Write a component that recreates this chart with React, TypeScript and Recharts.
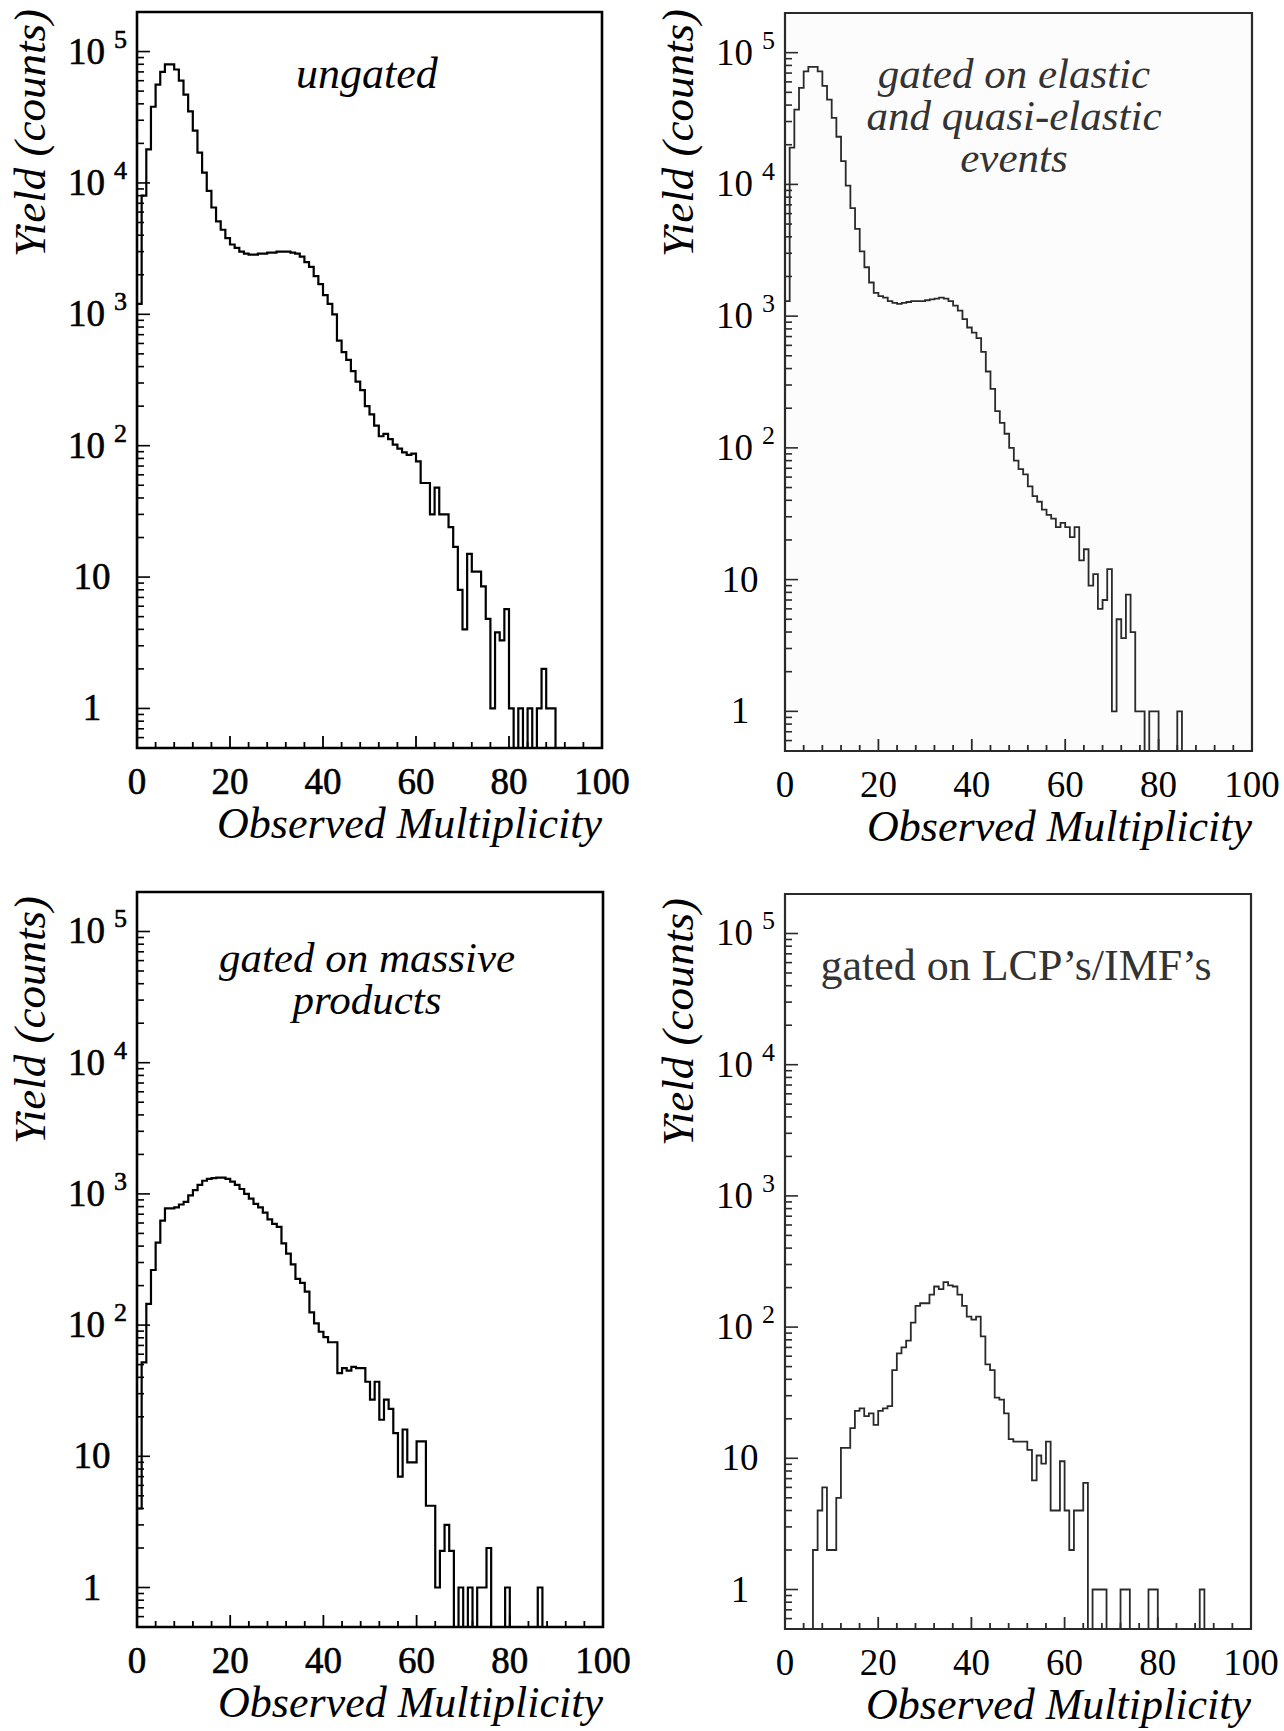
import React from "react";
import { LineChart, Line, XAxis, YAxis, ReferenceArea } from "recharts";

const FONT = '"Liberation Serif", "Times New Roman", Times, serif';

// log axis runs from 0.5 up to 2e5 counts
const Y_MIN = 0.5;
const Y_MAX = 200000;

const multiplicityTicks = [
  0, 4, 8, 12, 16, 20, 24, 28, 32, 36, 40, 44, 48, 52, 56, 60, 64, 68, 72, 76, 80, 84, 88, 92, 96, 100,
];
const multiplicityLabels = [0, 20, 40, 60, 80, 100];

const yieldTicks = [
  0.6, 0.7, 0.8, 0.9, 1, 2, 3, 4, 5, 6, 7, 8, 9, 10, 20, 30, 40, 50, 60, 70, 80, 90, 100, 200, 300,
  400, 500, 600, 700, 800, 900, 1000, 2000, 3000, 4000, 5000, 6000, 7000, 8000, 9000, 10000, 20000,
  30000, 40000, 50000, 60000, 70000, 80000, 90000, 100000,
];
const yieldDecades = [1, 10, 100, 1000, 10000, 100000];
const yieldDecadeBase = ["1", "10", "10", "10", "10", "10"];
const yieldDecadeExp = ["", "", "2", "3", "4", "5"];

// counts per multiplicity bin, bin n covers [n, n+1)
const ungatedCounts = [
  1200, 8000, 18000, 38000, 56000, 70000, 80000, 80000, 73000, 60000,
  47000, 35000, 25000, 17000, 12000, 8700, 6500, 5100, 4400, 3800,
  3400, 3200, 3000, 2900, 2850, 2850, 2900, 2900, 2950, 2950,
  3000, 3000, 3000, 2950, 2900, 2750, 2500, 2300, 1950, 1700,
  1400, 1200, 1000, 630, 515, 450, 370, 307, 265, 200,
  173, 142, 118, 123, 112, 102, 95, 89, 85, 87,
  76, 52, 52, 30, 48, 30, 30, 24, 17, 8,
  4, 15, 11, 11, 8.5, 4.8, 1, 3.8, 3.3, 5.7,
  1, 0, 1, 0, 1, 0, 1, 2, 1, 1,
];

const elasticCounts = [
  1300, 19000, 37000, 54000, 72000, 78000, 78000, 72000, 56000, 44000,
  32000, 23000, 15000, 9800, 6600, 4600, 3100, 2350, 1800, 1500,
  1420, 1380, 1300, 1260, 1240, 1260, 1280, 1300, 1300, 1300,
  1320, 1340, 1360, 1380, 1360, 1300, 1200, 1100, 950, 820,
  750, 680, 535, 380, 280, 190, 155, 128, 100, 80,
  69, 63, 51, 43, 39, 34, 31, 29, 25, 27,
  25, 21, 25, 14, 17, 9, 11, 6, 7, 12,
  1, 5, 3.6, 7.7, 4, 1, 1, 0, 1, 1,
  0, 0, 0, 0, 1,
];

const massiveCounts = [
  4, 52, 145, 263, 425, 625, 775, 775, 790, 830,
  870, 975, 1070, 1170, 1260, 1300, 1320, 1330, 1330, 1300,
  1240, 1170, 1090, 1000, 920, 840, 790, 720, 640, 590,
  560, 420, 350, 290, 225, 210, 180, 125, 103, 89,
  81, 74, 74, 43, 47, 45, 48, 47, 47, 37,
  27, 37, 19, 27, 23, 15, 7, 16, 9, 9,
  13, 13, 4.2, 4.2, 1, 1.9, 3, 1.9, 0, 1,
  0, 1, 0, 1, 1, 2, 0, 0, 0, 1,
  0, 0, 0, 0, 0, 0, 1,
];

const lcpImfCounts = [
  0, 0, 0, 0, 0, 0, 2, 4, 6, 2,
  2, 5, 12, 12, 17, 23, 24, 21, 22, 18,
  23, 24, 25, 47, 63, 70, 79, 108, 145, 152,
  152, 177, 204, 195, 220, 208, 204, 177, 145, 120,
  114, 120, 85, 52, 47, 29, 28, 22, 14, 13.4,
  13.4, 13.4, 11.6, 6.8, 10.5, 9.1, 13.4, 4, 4, 9.5,
  4, 2, 4, 4, 6.5, 0, 1, 1, 1, 0,
  0, 0, 1, 1, 0, 0, 0, 0, 1, 1,
  0, 0, 0, 0, 0, 0, 0, 0, 0, 1,
];

const panelCaptions = [
  ["ungated"],
  ["gated on elastic", "and quasi-elastic", "events"],
  ["gated on massive", "products"],
  ["gated on LCP\u2019s/IMF\u2019s"],
];

type PanelStyle = {
  left: number;
  top: number;
  width: number;
  height: number;
  ink: string;
  labelStroke: number;
  lineWidth: number;
  frameWidth: number;
  shade: number;
  captionX: number;
  captionY: number;
  captionStep: number;
  captionSize: number;
  captionItalic: boolean;
  captionInk: string;
  yTitleY: number;
};

const panels: PanelStyle[] = [
  { left: 137, top: 12, width: 465, height: 736, ink: "#000", labelStroke: 0.6, lineWidth: 2.2, frameWidth: 2.6,
    shade: 0, captionX: 367, captionY: 88, captionStep: 42, captionSize: 44, captionItalic: true,
    captionInk: "#000", yTitleY: 133 },
  { left: 785, top: 13, width: 467, height: 738, ink: "#2a2a2a", labelStroke: 0, lineWidth: 1.8, frameWidth: 2.2,
    shade: 0.012, captionX: 1014, captionY: 88, captionStep: 42, captionSize: 43, captionItalic: true,
    captionInk: "#333", yTitleY: 133 },
  { left: 137, top: 892, width: 466, height: 735, ink: "#000", labelStroke: 0.6, lineWidth: 2.2, frameWidth: 2.6,
    shade: 0, captionX: 367, captionY: 972, captionStep: 42, captionSize: 43, captionItalic: true,
    captionInk: "#000", yTitleY: 1020 },
  { left: 785, top: 894, width: 466, height: 735, ink: "#2a2a2a", labelStroke: 0, lineWidth: 1.8, frameWidth: 2.2,
    shade: 0, captionX: 1016, captionY: 980, captionStep: 42, captionSize: 44, captionItalic: false,
    captionInk: "#333", yTitleY: 1022 },
];

const panelCounts = [ungatedCounts, elasticCounts, massiveCounts, lcpImfCounts];

const AXIS_W = 110;
const AXIS_H = 60;
const PAD_T = 10;
const PAD_R = 45;

// histogram outline for a stepAfter line: rise at the first edge, drop after the last bin
function toSteps(counts: number[]) {
  const pts = [{ x: 0, y: Y_MIN }];
  counts.forEach((c, i) => pts.push({ x: i, y: Math.max(c, Y_MIN) }));
  pts.push({ x: counts.length, y: Y_MIN });
  return pts;
}

function makeXTick(p: PanelStyle) {
  return (props: any) => {
    const { x, y, payload } = props;
    const major = multiplicityLabels.includes(payload.value);
    return (
      <g>
        <line x1={x} x2={x} y1={y} y2={y - (major ? 12 : 6)} stroke={p.ink} strokeWidth={1.8} />
        {major && (
          <text
            x={x}
            y={y + 46}
            textAnchor="middle"
            fontFamily={FONT}
            fontSize={37}
            fill="#000"
            stroke="#000"
            strokeWidth={p.labelStroke}
          >
            {payload.value}
          </text>
        )}
      </g>
    );
  };
}

function makeYTick(p: PanelStyle) {
  return (props: any) => {
    const { x, y, payload } = props;
    const i = yieldDecades.indexOf(payload.value);
    const major = i >= 0;
    const txt = { fontFamily: FONT, fill: "#000", stroke: "#000", strokeWidth: p.labelStroke };
    return (
      <g>
        <line x1={x} x2={x + (major ? 13 : 7)} y1={y} y2={y} stroke={p.ink} strokeWidth={1.6} />
        {major && yieldDecadeExp[i] === "" && (
          <text x={x - 45} y={y + 12} textAnchor="middle" fontSize={37} {...txt}>
            {yieldDecadeBase[i]}
          </text>
        )}
        {major && yieldDecadeExp[i] !== "" && (
          <g>
            <text x={x - 32} y={y + 12} textAnchor="end" fontSize={37} {...txt}>
              {yieldDecadeBase[i]}
            </text>
            <text x={x - 23} y={y - 4} fontSize={26} {...txt}>
              {yieldDecadeExp[i]}
            </text>
          </g>
        )}
      </g>
    );
  };
}

function Panel({ p, counts }: { p: PanelStyle; counts: number[] }) {
  const points = toSteps(counts);
  return (
    <div style={{ position: "absolute", left: p.left - AXIS_W, top: p.top - PAD_T }}>
      <LineChart
        width={AXIS_W + p.width + PAD_R}
        height={PAD_T + p.height + AXIS_H}
        data={points}
        margin={{ top: PAD_T, right: PAD_R, bottom: 0, left: 0 }}
      >
        <XAxis
          dataKey="x"
          type="number"
          domain={[0, 100]}
          ticks={multiplicityTicks}
          interval={0}
          tickSize={0}
          tickMargin={0}
          axisLine={false}
          height={AXIS_H}
          allowDataOverflow
          tick={makeXTick(p)}
        />
        <YAxis
          type="number"
          scale="log"
          domain={[Y_MIN, Y_MAX]}
          ticks={yieldTicks}
          interval={0}
          tickSize={0}
          tickMargin={0}
          axisLine={false}
          width={AXIS_W}
          allowDataOverflow
          tick={makeYTick(p)}
        />
        <ReferenceArea
          x1={0}
          x2={100}
          y1={Y_MIN}
          y2={Y_MAX}
          fill="#000"
          fillOpacity={p.shade}
          stroke={p.ink}
          strokeWidth={p.frameWidth}
          ifOverflow="visible"
        />
        <Line
          type="stepAfter"
          dataKey="y"
          stroke={p.ink}
          strokeWidth={p.lineWidth}
          strokeLinejoin="miter"
          dot={false}
          activeDot={false}
          isAnimationActive={false}
        />
      </LineChart>
    </div>
  );
}

function Texts() {
  return (
    <svg
      width={1284}
      height={1731}
      style={{ position: "absolute", left: 0, top: 0, pointerEvents: "none" }}
    >
      {panels.map((p, k) => (
        <g key={k} fontFamily={FONT}>
          <text
            transform={`translate(${p.left - 92},${p.yTitleY}) rotate(-90)`}
            textAnchor="middle"
            fontStyle="italic"
            fontSize={45}
            fill="#000"
          >
            Yield (counts)
          </text>
          <text
            x={p.left + p.width}
            y={p.top + p.height + 90}
            textAnchor="end"
            fontStyle="italic"
            fontSize={44}
            fill="#000"
          >
            Observed Multiplicity
          </text>
          {panelCaptions[k].map((line, j) => (
            <text
              key={j}
              x={p.captionX}
              y={p.captionY + j * p.captionStep}
              textAnchor="middle"
              fontStyle={p.captionItalic ? "italic" : "normal"}
              fontSize={p.captionSize}
              fill={p.captionInk}
            >
              {line}
            </text>
          ))}
        </g>
      ))}
    </svg>
  );
}

export default function App() {
  return (
    <div
      style={{
        position: "absolute",
        left: 0,
        top: 0,
        width: 1284,
        height: 1731,
        background: "#fff",
        overflow: "hidden",
      }}
    >
      {panels.map((p, k) => (
        <Panel key={k} p={p} counts={panelCounts[k]} />
      ))}
      <Texts />
    </div>
  );
}
